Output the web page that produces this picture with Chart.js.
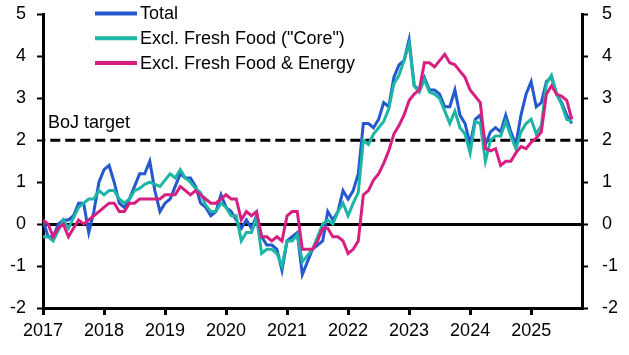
<!DOCTYPE html>
<html><head><meta charset="utf-8">
<script src="https://cdn.jsdelivr.net/npm/chart.js@4.4.1/dist/chart.umd.min.js"></script>
<style>html,body{margin:0;padding:0;background:#fff}#wrap{width:629px;height:355px}</style>
</head><body><div id="wrap"><canvas id="c" width="629" height="355"></canvas></div>
<script>
// Monthly data, Jan 2017 onwards (y/y %)
const yearLabels = ['2017','2018','2019','2020','2021','2022','2023','2024','2025'];
const axisEndMonth = 106; // axis runs to Nov 2025
const seriesNames = ['Total', 'Excl. Fresh Food ("Core")', 'Excl. Fresh Food & Energy'];
const targetLabel = 'BoJ target';
const bojTarget = 2;
const yTicks = [-2, -1, 0, 1, 2, 3, 4, 5];

const totalCPI = [
  0.1, -0.3, -0.3, 0.0, 0.1, 0.1, 0.2, 0.5, 0.5, -0.2, 0.3, 1.0,
  1.3, 1.4, 1.0, 0.5, 0.4, 0.6, 0.9, 1.2, 1.2, 1.5, 0.8, 0.3,
  0.5, 0.6, 0.9, 1.2, 1.1, 1.1, 0.9, 0.5, 0.4, 0.2, 0.3, 0.7,
  0.4, 0.3, 0.1, -0.1, 0.1, -0.1, 0.2, -0.3, -0.5, -0.5, -0.6, -1.1,
  -0.4, -0.3, -0.2, -1.2, -0.9, -0.6, -0.5, -0.4, 0.3, 0.1, 0.3, 0.8,
  0.6, 0.8, 1.2, 2.4, 2.4, 2.3, 2.5, 2.9, 2.8, 3.5, 3.8, 3.9,
  4.4, 3.3, 3.2, 3.5, 3.2, 3.2, 3.1, 2.8, 2.8, 3.2, 2.6, 2.4,
  1.9, 2.5, 2.6, 1.9, 2.2, 2.3, 2.2, 2.6, 2.2, 1.9, 2.6, 3.1,
  3.4, 2.8, 2.9, 3.4, 3.5, 3.1, 2.9, 2.6, 2.4
];
const coreCPI = [
  -0.3, -0.3, -0.4, -0.15, 0.1, -0.1, 0.15, 0.4, 0.5, 0.6, 0.6, 0.8,
  0.7, 0.8, 0.8, 0.6, 0.5, 0.6, 0.8, 0.85, 0.95, 1.0, 0.95, 0.9,
  1.05, 1.2, 1.1, 1.3, 1.1, 1.0, 0.85, 0.75, 0.45, 0.3, 0.3, 0.5,
  0.4, 0.2, 0.2, -0.4, -0.2, -0.2, 0.15, -0.7, -0.6, -0.6, -0.7, -1.0,
  -0.4, -0.4, -0.25, -0.9, -0.75, -0.6, -0.3, 0.0, 0.1, 0.0, 0.3, 0.5,
  0.2, 0.5, 0.75, 2.0, 1.9, 2.15, 2.3, 2.45, 2.75, 3.35, 3.55, 3.9,
  4.3, 3.3, 3.15, 3.45, 3.15, 3.1, 3.0, 2.7, 2.4, 2.7, 2.3, 2.15,
  1.7, 2.45, 2.4, 1.5, 2.0, 2.1, 2.1, 2.45, 2.1, 1.8, 2.2, 2.4,
  2.5, 2.15, 2.35, 3.35, 3.55, 3.1, 2.85, 2.5, 2.45
];
const exFoodEnergyCPI = [
  0.1, 0.0, -0.3, -0.1, 0.0, -0.3, -0.1, 0.1, 0.0, 0.1, 0.2, 0.3,
  0.4, 0.5, 0.5, 0.3, 0.3, 0.5, 0.5, 0.6, 0.6, 0.6, 0.6, 0.6,
  0.7, 0.7, 0.7, 0.9, 0.8, 0.7, 0.8, 0.7, 0.6, 0.5, 0.5, 0.6,
  0.7, 0.6, 0.6, 0.1, 0.3, 0.2, 0.3, -0.3, -0.3, -0.4, -0.3, -0.4,
  0.2, 0.3, 0.3, -0.6, -0.6, -0.6, -0.4, -0.1, -0.1, -0.3, -0.3, -0.4,
  -0.7, -0.6, -0.4, 0.7, 0.8, 1.05, 1.2, 1.45, 1.75, 2.15, 2.35, 2.6,
  2.95, 3.1, 3.2, 3.85, 3.85, 3.75, 3.9, 4.05, 3.85, 3.8, 3.65, 3.5,
  3.2, 3.05, 2.9, 1.8, 1.75, 1.8, 1.4, 1.5, 1.5, 1.7, 1.85, 1.8,
  1.95, 2.05, 2.2, 3.1, 3.3, 3.1, 3.05, 2.95, 2.5
];

const FONT = '"Liberation Sans", Arial, sans-serif';
const COLORS = ['#2358CF', '#1DB5A3', '#D61F80'];
const toPoints = arr => arr.map((v, i) => ({ x: i, y: v }));

const targetPlugin = {
  id: 'bojTarget',
  beforeDatasetsDraw(chart) {
    const { ctx, chartArea } = chart;
    const y = chart.scales.y.getPixelForValue(bojTarget);
    ctx.save();
    ctx.strokeStyle = '#000';
    ctx.lineWidth = 3;
    ctx.setLineDash([10, 5]);
    ctx.lineDashOffset = 7.7;
    ctx.beginPath();
    ctx.moveTo(chartArea.left, y);
    ctx.lineTo(chartArea.right, y);
    ctx.stroke();
    ctx.setLineDash([]);
    ctx.fillStyle = '#000';
    ctx.font = '18px ' + FONT;
    ctx.textBaseline = 'alphabetic';
    ctx.textAlign = 'left';
    ctx.fillText(targetLabel, chartArea.left + 5, y - 12);
    ctx.restore();
  }
};

const legendPlugin = {
  id: 'customLegend',
  afterDraw(chart) {
    const { ctx } = chart;
    ctx.save();
    ctx.font = '18px ' + FONT;
    ctx.textBaseline = 'middle';
    ctx.textAlign = 'left';
    chart.data.datasets.forEach((ds, i) => {
      const y = 13.5 + i * 24.7;
      ctx.strokeStyle = ds.borderColor;
      ctx.lineWidth = 4;
      ctx.beginPath();
      ctx.moveTo(95, y);
      ctx.lineTo(137, y);
      ctx.stroke();
      ctx.fillStyle = '#000';
      ctx.fillText(ds.label, 140, y + 1);
    });
    ctx.restore();
  }
};

const tickFont = { family: FONT, size: 18 };
const fitY = w => s => { s.width = w; s.paddingTop = 0; s.paddingBottom = 0; };

new Chart(document.getElementById('c'), {
  type: 'line',
  data: {
    datasets: [
      { label: seriesNames[0], data: toPoints(totalCPI), borderColor: COLORS[0], order: 3 },
      { label: seriesNames[1], data: toPoints(coreCPI), borderColor: COLORS[1], order: 2 },
      { label: seriesNames[2], data: toPoints(exFoodEnergyCPI), borderColor: COLORS[2], order: 1 }
    ]
  },
  options: {
    responsive: false,
    animation: false,
    devicePixelRatio: 1,
    elements: {
      line: { borderWidth: 3, tension: 0, fill: false },
      point: { radius: 0, hoverRadius: 0 }
    },
    layout: { padding: { top: 14.5, left: 0, right: 0, bottom: 0 } },
    plugins: { legend: { display: false }, tooltip: { enabled: false } },
    scales: {
      x: {
        type: 'linear',
        position: 'bottom',
        min: 0,
        max: axisEndMonth,
        afterBuildTicks: s => { s.ticks = yearLabels.map((_, i) => ({ value: i * 12 })); },
        ticks: {
          autoSkip: false,
          maxRotation: 0,
          includeBounds: false,
          color: '#000',
          font: tickFont,
          padding: 5,
          callback: v => yearLabels[Math.round(v / 12)]
        },
        grid: { drawOnChartArea: false, drawTicks: true, tickLength: 7, tickColor: '#000', tickWidth: 3, lineWidth: 3 },
        border: { display: true, color: '#000', width: 3 },
        afterFit: s => { s.height = 47; s.paddingLeft = 0; s.paddingRight = 0; }
      },
      y: {
        position: 'left',
        min: -2,
        max: 5,
        afterBuildTicks: s => { s.ticks = yTicks.map(v => ({ value: v })); },
        ticks: { color: '#000', font: tickFont, padding: 11 },
        grid: {
          color: c => (c.tick && c.tick.value === 0 ? '#000' : 'rgba(0,0,0,0)'),
          lineWidth: 3,
          tickColor: '#000',
          tickWidth: 2,
          tickLength: 6
        },
        border: { display: true, color: '#000', width: 3 },
        afterFit: fitY(43)
      },
      y2: {
        position: 'right',
        min: -2,
        max: 5,
        afterBuildTicks: s => { s.ticks = yTicks.map(v => ({ value: v })); },
        ticks: { color: '#000', font: tickFont, padding: 14 },
        grid: { drawOnChartArea: false, tickColor: '#000', tickWidth: 2, tickLength: 6 },
        border: { display: true, color: '#000', width: 3 },
        afterFit: fitY(47)
      }
    }
  },
  plugins: [targetPlugin, legendPlugin]
});
</script>
</body></html>
